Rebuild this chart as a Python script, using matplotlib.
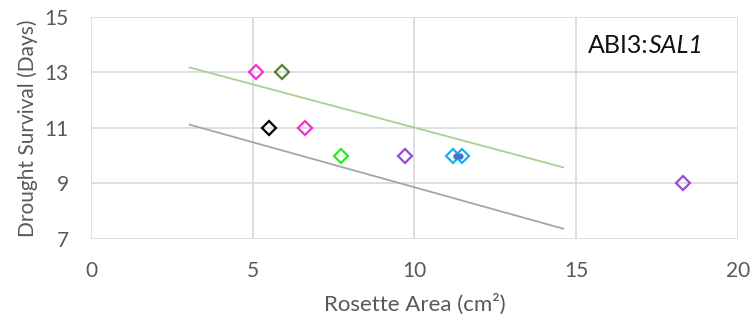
import numpy as np
from matplotlib import pyplot as plt

plt.rcParams['font.family'] = ['Lato', 'DejaVu Sans']

# data points (rosette area, drought survival)
area = [5.1, 5.9, 5.5, 6.6, 7.73, 9.7, 11.2, 11.47, 18.3]
survival = [13, 13, 11, 11, 10, 10, 10, 10, 9]
colors = ['#F032D2', '#548235', '#000000', '#F032D2', '#22EE22',
          '#9A4BD0', '#18B0F0', '#18B0F0', '#9A4BD0']
hidden_x = [11.28, 11.40]
hidden_y = [10, 10]

# trend lines (start, end)
green_x = [3.05, 14.6]
green_y = [13.18, 9.58]
gray_x = [3.05, 14.6]
gray_y = [11.12, 7.37]

text_color = '#595959'

fig = plt.figure(figsize=(7.53, 3.29), dpi=100)
ax = fig.add_axes([0.1209, 0.2736, 0.8591, 0.6748])

ax.plot(green_x, green_y, color='#A9D18E', linewidth=1.3, zorder=2)
ax.plot(gray_x, gray_y, color='#A6A6A6', linewidth=1.3, zorder=2)

for x, y, c in zip(area, survival, colors):
    ax.plot(x, y, 'D', markersize=7.5, markerfacecolor='none',
            markeredgecolor=c, markeredgewidth=1.6, zorder=4)
ax.plot(hidden_x, hidden_y, 'o', color='#4472C4', markersize=3.5, zorder=5)

ax.set_xlim(0, 20)
ax.set_ylim(7, 15)
ax.set_xticks([0, 5, 10, 15, 20])
ax.set_yticks([7, 9, 11, 13, 15])
ax.grid(True, color='#D9D9D9', linewidth=1.2)
ax.set_axisbelow(True)
for s in ax.spines.values():
    s.set_visible(False)
ax.tick_params(length=0, labelsize=15, labelcolor=text_color)
ax.tick_params(axis='y', pad=16)
ax.tick_params(axis='x', pad=16)

ax.set_xlabel('Rosette Area (cm²)', fontsize=16, color=text_color, labelpad=9)
ax.set_ylabel('Drought Survival (Days)', fontsize=15, color=text_color, labelpad=5)

# inset label, italic gene name
t1 = ax.text(0.768, 0.87, 'ABI3:', transform=ax.transAxes,
             ha='left', va='center', fontsize=18, color='#111111')
ax.annotate('SAL1', xy=(1, 0), xycoords=t1, ha='left', va='bottom',
            fontsize=18, color='#111111', style='italic')

fig.savefig('out.png', dpi=100)
